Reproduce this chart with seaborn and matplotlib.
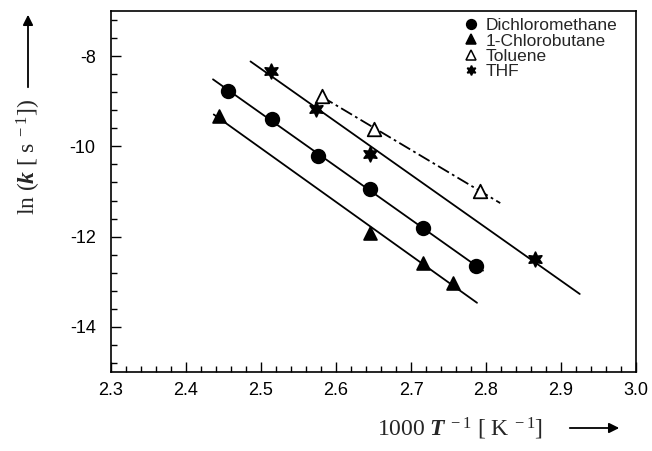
import numpy as np
import pandas as pd
import matplotlib
matplotlib.use("Agg")
import matplotlib.pyplot as plt
import seaborn as sns
from matplotlib.lines import Line2D
from matplotlib.ticker import MultipleLocator

# ---------------- data ----------------
solvents = ["Dichloromethane", "1-Chlorobutane", "Toluene", "THF"]

dcm_x = [2.456, 2.515, 2.576, 2.645, 2.716, 2.786]
dcm_y = [-8.77, -9.40, -10.21, -10.95, -11.80, -12.65]

clb_x = [2.444, 2.646, 2.716, 2.756]
clb_y = [-9.33, -11.92, -12.58, -13.02]

tol_x = [2.581, 2.651, 2.792]
tol_y = [-8.88, -9.62, -10.98]

thf_x = [2.514, 2.574, 2.646, 2.865]
thf_y = [-8.32, -9.18, -10.16, -12.50]

fit_start = [2.436, 2.437, 2.581, 2.486]
fit_end = [2.796, 2.788, 2.819, 2.925]

x_ticks = [2.3, 2.4, 2.5, 2.6, 2.7, 2.8, 2.9, 3.0]
y_ticks = [-8, -10, -12, -14]

# ---------------- styling ----------------
sns.set_style("ticks")
plt.rcParams["font.family"] = ["Liberation Sans", "DejaVu Sans"]
plt.rcParams["mathtext.fontset"] = "custom"
plt.rcParams["mathtext.rm"] = "Liberation Serif"
plt.rcParams["mathtext.it"] = "Liberation Serif:italic"
plt.rcParams["mathtext.bf"] = "Liberation Serif:bold:italic"

xs = [dcm_x, clb_x, tol_x, thf_x]
ys = [dcm_y, clb_y, tol_y, thf_y]
markers = ["o", "^", "^", (6, 1, 0)]
faces = ["black", "black", "white", "black"]
sizes = [95, 85, 95, 110]
lstyles = ["-", "-", (0, (7, 2, 1.5, 2)), "-"]

frames = []
for name, x, y in zip(solvents, xs, ys):
    frames.append(pd.DataFrame({"x": x, "y": y, "solvent": name}))
df = pd.concat(frames, ignore_index=True)

fig = plt.figure(figsize=(6.52, 4.51), dpi=100)
ax = fig.add_axes([111 / 652, 1 - 372 / 451, 525 / 652, 361 / 451])

# fitted lines
for i, name in enumerate(solvents):
    sub = df[df.solvent == name]
    m, b = np.polyfit(sub.x, sub.y, 1)
    fx = np.array([fit_start[i], fit_end[i]])
    fit = pd.DataFrame({"x": fx, "y": m * fx + b})
    sns.lineplot(data=fit, x="x", y="y", ax=ax, color="black", lw=1.3,
                 linestyle=lstyles[i], zorder=2)

# points
for i, name in enumerate(solvents):
    sub = df[df.solvent == name]
    sns.scatterplot(data=sub, x="x", y="y", ax=ax, marker=markers[i],
                    s=sizes[i], facecolor=faces[i], edgecolor="black",
                    linewidth=1.3, zorder=3)

ax.set_xlim(2.3, 3.0)
ax.set_ylim(-15, -7)
ax.set_xticks(x_ticks)
ax.set_xticklabels([f"{v:.1f}" for v in x_ticks])
ax.set_yticks(y_ticks)
ax.set_yticklabels([f"{v:d}" for v in y_ticks])
ax.xaxis.set_minor_locator(MultipleLocator(0.02))
ax.yaxis.set_minor_locator(MultipleLocator(0.4))
ax.tick_params(which="both", direction="in", top=False, right=False,
               labelsize=13, width=1.0, color="black", labelcolor="black")
ax.tick_params(which="major", length=7)
ax.tick_params(axis="x", which="major", pad=7)
ax.tick_params(axis="y", which="major", pad=11)
ax.tick_params(which="minor", length=4)
for s in ax.spines.values():
    s.set_visible(True)
    s.set_linewidth(1.2)
    s.set_color("black")
ax.set_xlabel("")
ax.set_ylabel("")

# legend
handles = []
for i, name in enumerate(solvents):
    handles.append(Line2D([], [], ls="", marker=markers[i], markersize=7,
                          markerfacecolor=faces[i], markeredgecolor="black",
                          markeredgewidth=1.1, label=name))
ax.legend(handles=handles, loc="upper left", bbox_to_anchor=(0.672, 0.98),
          frameon=False, fontsize=12.5, handlelength=0.8, handletextpad=0.45,
          labelspacing=0.0, borderaxespad=0, borderpad=0)

# axis labels with arrows
fig.text(29 / 652, 1 - 157 / 451,
         r"$\mathrm{ln}\ (\mathbf{k}\ [\ \mathrm{s}^{\ -1}])$",
         rotation=90, ha="center", va="center", fontsize=17)
fig.add_artist(matplotlib.patches.FancyArrowPatch(
    (28 / 652, 1 - 90 / 451), (28 / 652, 1 - 12 / 451), transform=fig.transFigure,
    arrowstyle="-|>,head_length=6,head_width=3", lw=1.3, color="black"))
fig.text(460 / 652, 1 - 429 / 451,
         r"$1000\ \mathbf{T}^{\ -1}\ [\ \mathrm{K}^{\ -1}]$",
         ha="center", va="center", fontsize=17)
fig.add_artist(matplotlib.patches.FancyArrowPatch(
    (567 / 652, 1 - 428 / 451), (622 / 652, 1 - 428 / 451), transform=fig.transFigure,
    arrowstyle="-|>,head_length=6,head_width=3", lw=1.3, color="black"))

fig.savefig("out.png", dpi=100)
